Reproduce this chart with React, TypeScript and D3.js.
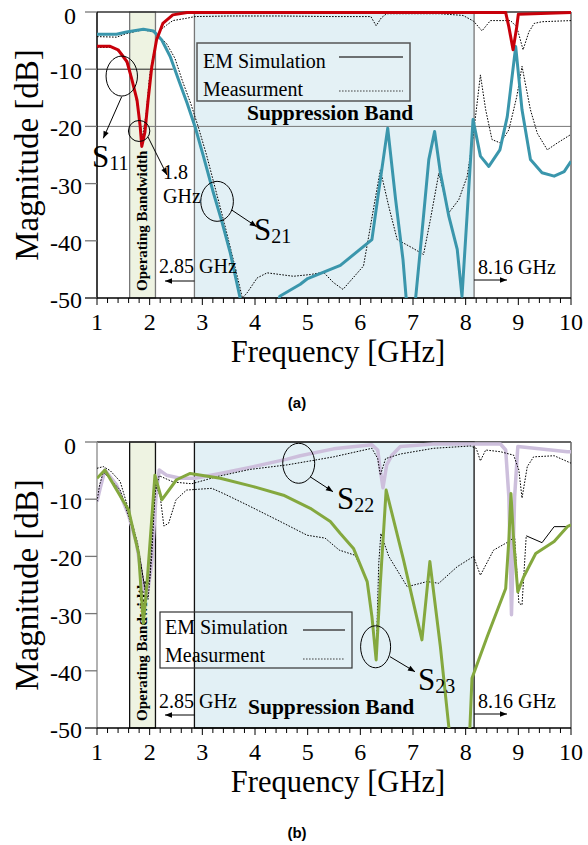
import * as d3 from "d3";

type Pt = [number, number];

// axes
const xTicks = [1, 2, 3, 4, 5, 6, 7, 8, 9, 10];
const xMinor = d3.range(1, 10.001, 0.2);
const yTicks = [0, -10, -20, -30, -40, -50];
const opBand: Pt = [1.62, 2.11];
const suppBand: Pt = [2.85, 8.16];

// panel (a)
const s11Sim: Pt[] = [
  [1.0, -6], [1.25, -6], [1.4, -6.6], [1.57, -8.7], [1.665, -11.9], [1.76, -15.4],
  [1.82, -20], [1.85, -23.5], [1.91, -21], [1.97, -15.4], [2.04, -9.6], [2.13, -4.9],
  [2.25, -2], [2.44, -0.5], [2.71, -0.1], [8.76, -0.1], [8.82, -2.6], [8.9, -6.6],
  [8.97, -2.6], [9.0, -0.4], [10, -0.1]
];
const s21Sim: Pt[] = [
  [1.0, -3.9], [1.37, -3.9], [1.56, -3.5], [1.88, -3.0], [2.07, -3.3], [2.23, -4.9],
  [2.39, -7.8], [2.55, -11.9], [2.71, -15.9], [2.86, -20], [3.02, -25.2], [3.21, -31.6],
  [3.37, -36.6], [3.53, -42.1], [3.71, -49.7], [3.8, -53], [4.4, -53], [4.47, -49.7],
  [4.86, -47.6], [5.0, -46.6], [5.62, -44.3], [6.22, -39.8], [6.38, -29.3], [6.52, -20.3],
  [6.67, -32.8], [6.81, -43.3], [6.87, -50], [6.96, -56], [7.05, -50], [7.17, -38.6],
  [7.3, -25.8], [7.41, -20.9], [7.52, -28.1], [7.68, -35.7], [7.84, -41.5], [7.93, -49.7],
  [8.03, -35.1], [8.14, -18.8], [8.28, -25.2], [8.44, -27], [8.65, -24.1], [8.79, -18.3],
  [8.95, -6.05], [9.07, -17.1], [9.23, -25.8], [9.45, -28.1], [9.68, -28.7], [9.87, -27.9],
  [10, -26.1]
];
const s11Meas: Pt[] = [
  [1.0, -6.2], [1.3, -6.2], [1.5, -7.5], [1.65, -11], [1.78, -17], [1.86, -22],
  [1.93, -18], [2.0, -11], [2.1, -6], [2.2, -3.2], [2.32, -2.3], [2.44, -1.5],
  [2.7, -1.1], [2.86, -0.8], [3.5, -0.7], [4.5, -0.7], [5.5, -0.8], [6.2, -0.8],
  [6.3, -2.4], [6.4, -1.0], [6.5, -0.3], [7.5, -0.3], [7.95, -0.6], [8.15, -1.6],
  [8.31, -3.3], [8.47, -1.5], [8.85, -1.5], [8.97, -2.6], [9.09, -6.6], [9.2, -3.5],
  [9.3, -2.0], [9.45, -1.7], [10, -1.5]
];
const s21Meas: Pt[] = [
  [1.0, -4.3], [1.37, -4.4], [1.55, -3.8], [1.88, -3.1], [2.1, -3.6], [2.32, -5.5],
  [2.48, -8.1], [2.62, -12], [2.78, -16], [2.92, -20], [3.08, -25], [3.25, -31],
  [3.42, -37], [3.58, -43], [3.76, -50], [3.85, -49.1], [4.04, -46.5], [4.23, -45.6],
  [4.48, -45.9], [4.73, -46.2], [5.05, -45.9], [5.3, -45.5], [5.49, -47.3], [5.67, -48.5],
  [6.06, -44.4], [6.38, -27.6], [6.54, -34], [6.7, -39.8], [6.98, -41.2], [7.2, -42.4],
  [7.33, -36.3], [7.49, -28.2], [7.68, -35.1], [7.87, -32.8], [8.03, -28.7], [8.15, -21.2],
  [8.28, -11], [8.38, -17.1], [8.5, -22.3], [8.66, -22.9], [8.82, -20.6], [8.97, -14.8],
  [9.07, -9.5], [9.23, -17.1], [9.36, -21.2], [9.55, -24.1], [9.74, -22.9], [10, -21.4]
];

// panel (b)
const s22Sim: Pt[] = [
  [1.0, -10.4], [1.06, -8.1], [1.15, -4.9], [1.37, -7.5], [1.6, -12.8], [1.75, -17.7],
  [1.88, -25.3], [1.95, -27], [2.04, -21.2], [2.12, -9.6], [2.18, -4.9], [2.32, -5.8],
  [2.58, -6.35], [2.86, -6.35], [3.34, -5.5], [3.97, -4.3], [4.61, -3.0], [4.86, -2.4],
  [5.49, -1.2], [6.22, -0.5], [6.33, -1.4], [6.38, -5], [6.43, -8], [6.5, -4],
  [6.6, -2.3], [6.76, -0.8], [7.39, -0.35], [8.66, -0.35], [8.76, -1.4], [8.82, -9.6],
  [8.87, -30.2], [8.93, -9.6], [8.99, -0.8], [9.93, -1.7], [10, -1.7]
];
const s23Sim: Pt[] = [
  [1.0, -6.35], [1.15, -4.9], [1.6, -11.9], [1.79, -19.5], [1.88, -31.7], [1.95, -24.7],
  [2.1, -5.8], [2.23, -10.1], [2.51, -6.6], [2.77, -5.5], [3.34, -6.35], [3.97, -7.8],
  [4.54, -9.3], [5.05, -11.6], [5.43, -13.9], [5.62, -16], [5.87, -18.6], [6.13, -24.4],
  [6.22, -30.5], [6.3, -38.1], [6.38, -24.7], [6.49, -8.4], [6.82, -20.6], [7.17, -34.6],
  [7.32, -20.9], [7.52, -35.8], [7.68, -49.8], [7.8, -58], [8.0, -58], [8.08, -50],
  [8.12, -41.3], [8.41, -34], [8.76, -25.6], [8.82, -17.1], [8.86, -9.0], [8.91, -17.1],
  [8.99, -26.2], [9.1, -23.6], [9.33, -19.5], [9.68, -17.4], [9.93, -14.8], [10, -14.5]
];
const s22Meas: Pt[] = [
  [1.0, -4.6], [1.12, -4.3], [1.25, -5.0], [1.44, -6.9], [1.62, -12.5], [1.77, -17.7],
  [1.9, -25], [1.97, -27.5], [2.04, -20], [2.1, -9], [2.18, -5.9], [2.45, -7.0],
  [2.8, -7.3], [3.3, -6.0], [3.9, -4.8], [4.61, -4.0], [4.99, -3.4], [5.49, -2.6],
  [6.22, -1.1], [6.33, -2.9], [6.38, -5.8], [6.48, -2.9], [6.76, -2.1], [7.39, -1.1],
  [8.09, -0.7], [8.2, -1.1], [8.28, -3.3], [8.38, -1.4], [8.66, -1.7], [8.91, -2.3],
  [9.01, -4.9], [9.07, -9.8], [9.17, -4.3], [9.29, -2.6], [9.68, -2.4], [10, -3.7]
];
const s23Meas: Pt[] = [
  [1.0, -10.4], [1.05, -7.5], [1.12, -5.3], [1.25, -6.5], [1.44, -8.4], [1.62, -13.6],
  [1.8, -19.4], [1.92, -26.5], [2.0, -24], [2.06, -14], [2.12, -7.5], [2.2, -9.5],
  [2.27, -14.7], [2.36, -14.2], [2.5, -10.1], [2.7, -8.4], [3.18, -8.1], [3.4, -9.0],
  [3.85, -11], [4.48, -13.9], [4.99, -16.3], [5.33, -16.8], [5.6, -18.9], [5.9, -19.8],
  [6.13, -24.1], [6.22, -30.5], [6.3, -37.5], [6.35, -21.2], [6.39, -16], [6.54, -20],
  [6.89, -25.3], [7.27, -24.4], [7.49, -24.7], [7.84, -21.8], [8.15, -20], [8.28, -23.3],
  [8.53, -18.9], [8.82, -17.4], [8.93, -16.6], [9.01, -28.2], [9.07, -28.5], [9.15, -16.4]
];
const s23MeasTail: Pt[] = [[9.15, -16.4], [9.45, -17.6], [9.68, -14.8], [9.93, -14.8]];

const serif = "'Liberation Serif', 'Times New Roman', serif";
const X0 = 97;
const X1 = 571;

type Series = { data: Pt[]; color: string; width: number; dash?: string };

function Arrow({ x1, y1, x2, y2 }: { x1: number; y1: number; x2: number; y2: number }) {
  return <line x1={x1} y1={y1} x2={x2} y2={y2} stroke="#000" strokeWidth={1} markerEnd="url(#arr)" />;
}

function Panel(props: {
  id: string;
  top: number;
  bottom: number;
  leftColor: string;
  bandStroke: string;
  grid: { db: number; to: number; color: string }[];
  series: Series[];
  label: string;
  extras: (x: d3.ScaleLinear<number, number>, y: d3.ScaleLinear<number, number>) => any;
}) {
  const { id, top, bottom } = props;
  const x = d3.scaleLinear().domain([1, 10]).range([X0, X1]);
  const y = d3.scaleLinear().domain([0, -50]).range([top, bottom]);
  const line = d3.line<Pt>().x(d => x(d[0])).y(d => y(d[1]));
  const mid = (top + bottom) / 2;

  return (
    <g>
      <defs>
        <clipPath id={`clip-${id}`}>
          <rect x={X0} y={top - 3} width={X1 - X0} height={bottom - top + 3} />
        </clipPath>
      </defs>
      {/* bands */}
      <rect x={x(suppBand[0])} y={top} width={x(suppBand[1]) - x(suppBand[0])} height={bottom - top}
        fill="#e2f0f5" stroke={props.bandStroke} strokeWidth={1.3} />
      <rect x={x(opBand[0])} y={top} width={x(opBand[1]) - x(opBand[0])} height={bottom - top}
        fill="#eef3e2" stroke={props.bandStroke} strokeWidth={1.3} />
      {props.grid.map((g, i) => (
        <line key={i} x1={X0} x2={x(g.to)} y1={y(g.db)} y2={y(g.db)} stroke={g.color} strokeWidth={1} />
      ))}
      {/* frame */}
      <line x1={X0} x2={X1} y1={top} y2={top} stroke="#333" strokeWidth={1.5} />
      <line x1={X1} x2={X1} y1={top} y2={bottom} stroke="#666" strokeWidth={1.5} />
      <line x1={X0} x2={X0} y1={top} y2={bottom} stroke={props.leftColor} strokeWidth={1.5} />
      <line x1={X0 - 12} x2={X1} y1={bottom} y2={bottom} stroke="#000" strokeWidth={1.5} />
      {yTicks.map(t => (
        <g key={t}>
          <line x1={X0 - 12} x2={X0} y1={y(t)} y2={y(t)} stroke="#777" strokeWidth={1.3} />
          <text x={t === 0 ? 76 : 82} y={y(t) + (t === 0 ? 12 : 10)} textAnchor="end" fontSize={24}
            fontFamily={serif}>{t}</text>
        </g>
      ))}
      {xMinor.map((t, i) => (
        <line key={i} x1={x(t)} x2={x(t)} y1={bottom} y2={bottom + (i % 5 === 0 ? 7 : 5)} stroke="#000" strokeWidth={1} />
      ))}
      {xTicks.map(t => (
        <text key={t} x={x(t)} y={bottom + 32} textAnchor="middle" fontSize={24} fontFamily={serif}>{t}</text>
      ))}
      <text x={338} y={bottom + 64} textAnchor="middle" fontSize={30.5} fontFamily={serif}>Frequency [GHz]</text>
      <text transform={`translate(38,${mid}) rotate(-90)`} textAnchor="middle" fontSize={33}
        fontFamily={serif}>Magnitude [dB]</text>
      <text transform={`translate(147,${y(-36.5)}) rotate(-90)`} textAnchor="middle" fontSize={15}
        fontWeight="bold" fontFamily={serif}>Operating Bandwidth</text>
      {/* curves */}
      <g clipPath={`url(#clip-${id})`}>
        {props.series.map((s, i) => (
          <path key={i} d={line(s.data) ?? ""} fill="none" stroke={s.color} strokeWidth={s.width}
            strokeDasharray={s.dash} strokeLinejoin="round" />
        ))}
      </g>
      {props.extras(x, y)}
      <text x={297} y={bottom + 110} textAnchor="middle" fontSize={15} fontWeight="bold"
        fontFamily="'Liberation Sans', Arial, sans-serif">{props.label}</text>
    </g>
  );
}

const dotted = "1.6 1.4";

export default function App() {
  return (
    <svg width={588} height={845} fontFamily={serif}
      style={{ position: "absolute", left: 0, top: 0, background: "#fff" }}>
      <defs>
        <marker id="arr" viewBox="0 0 10 10" refX={10} refY={5} markerWidth={8} markerHeight={7}
          orient="auto" markerUnits="userSpaceOnUse">
          <path d="M0,1 L10,5 L0,9 z" fill="#000" />
        </marker>
      </defs>

      <Panel id="a" top={12} bottom={298} leftColor="#000" bandStroke="#777" label="(a)"
        grid={[{ db: -10, to: 2.44, color: "#222" }, { db: -20, to: 10, color: "#777" }]}
        series={[
          { data: s11Meas, color: "#000", width: 1, dash: dotted },
          { data: s21Meas, color: "#000", width: 1, dash: dotted },
          { data: s21Sim, color: "#3a96ac", width: 3 },
          { data: s11Sim, color: "#c8000a", width: 3 }
        ]}
        extras={(x, y) => (
          <g>
            <rect x={197} y={43} width={213} height={58} fill="#e4f1f5" stroke="#555" strokeWidth={1.5} />
            <text x={203} y={68} fontSize={20}>EM Simulation</text>
            <text x={203} y={96} fontSize={20}>Measurment</text>
            <line x1={339} x2={403} y1={57} y2={57} stroke="#444" strokeWidth={1.3} />
            <line x1={339} x2={403} y1={91} y2={91} stroke="#444" strokeWidth={1} strokeDasharray={dotted} />
            <text x={247} y={120} fontSize={21.5} fontWeight="bold">Suppression Band</text>
            <ellipse cx={x(1.47)} cy={y(-11.2)} rx={15.7} ry={20} fill="none" stroke="#000" />
            <Arrow x1={121.7} y1={96.7} x2={103.3} y2={138.3} />
            <text x={92} y={167} fontSize={31}>S<tspan fontSize={20} dy={3}>11</tspan></text>
            <ellipse cx={x(1.8)} cy={y(-20.8)} rx={10.7} ry={10.5} fill="none" stroke="#000" />
            <Arrow x1={148} y1={137} x2={167} y2={175} />
            <text x={163} y={179} fontSize={20}>1.8</text>
            <text x={163} y={203} fontSize={20}>GHz</text>
            <ellipse cx={x(3.28)} cy={y(-33.1)} rx={16.3} ry={20} fill="none" stroke="#000" />
            <Arrow x1={231.7} y1={210} x2={256.7} y2={226.7} />
            <text x={254} y={240} fontSize={31}>S<tspan fontSize={20} dy={3}>21</tspan></text>
            <text x={159} y={273} fontSize={20}>2.85 GHz</text>
            <Arrow x1={x(suppBand[0])} y1={281} x2={165} y2={281} />
            <text x={478} y={274} fontSize={20}>8.16 GHz</text>
            <Arrow x1={x(suppBand[1])} y1={280} x2={507} y2={280} />
          </g>
        )}
      />

      <Panel id="b" top={442} bottom={728} leftColor="#999" bandStroke="#111" label="(b)"
        grid={[]}
        series={[
          { data: s22Sim, color: "#cdbfdc", width: 3.5 },
          { data: s22Meas, color: "#000", width: 1, dash: dotted },
          { data: s23Meas, color: "#000", width: 1, dash: dotted },
          { data: s23MeasTail, color: "#000", width: 1 },
          { data: s23Sim, color: "#84a83e", width: 3 }
        ]}
        extras={(x, y) => (
          <g>
            <rect x={160} y={612} width={192} height={56} fill="none" stroke="#333" strokeWidth={1.2} />
            <text x={165} y={634} fontSize={20}>EM Simulation</text>
            <text x={165} y={662} fontSize={20}>Measurment</text>
            <line x1={303} x2={345} y1={630} y2={630} stroke="#444" strokeWidth={1.3} />
            <line x1={303} x2={345} y1={659} y2={659} stroke="#444" strokeWidth={1} strokeDasharray={dotted} />
            <text x={248} y={714} fontSize={21.5} fontWeight="bold">Suppression Band</text>
            <ellipse cx={x(4.83)} cy={y(-3.72)} rx={16} ry={20} fill="none" stroke="#000" />
            <Arrow x1={310} y1={476.7} x2={333} y2={491.7} />
            <text x={337} y={509} fontSize={31}>S<tspan fontSize={20} dy={3}>22</tspan></text>
            <ellipse cx={x(6.29)} cy={y(-35.8)} rx={15} ry={21} fill="none" stroke="#000" />
            <Arrow x1={390} y1={656.7} x2={415} y2={671.7} />
            <text x={418} y={690} fontSize={31}>S<tspan fontSize={20} dy={3}>23</tspan></text>
            <text x={159} y={708} fontSize={20}>2.85 GHz</text>
            <Arrow x1={x(suppBand[0])} y1={715} x2={165} y2={715} />
            <text x={478} y={708} fontSize={20}>8.16 GHz</text>
            <Arrow x1={x(suppBand[1])} y1={714} x2={507} y2={714} />
          </g>
        )}
      />
    </svg>
  );
}
